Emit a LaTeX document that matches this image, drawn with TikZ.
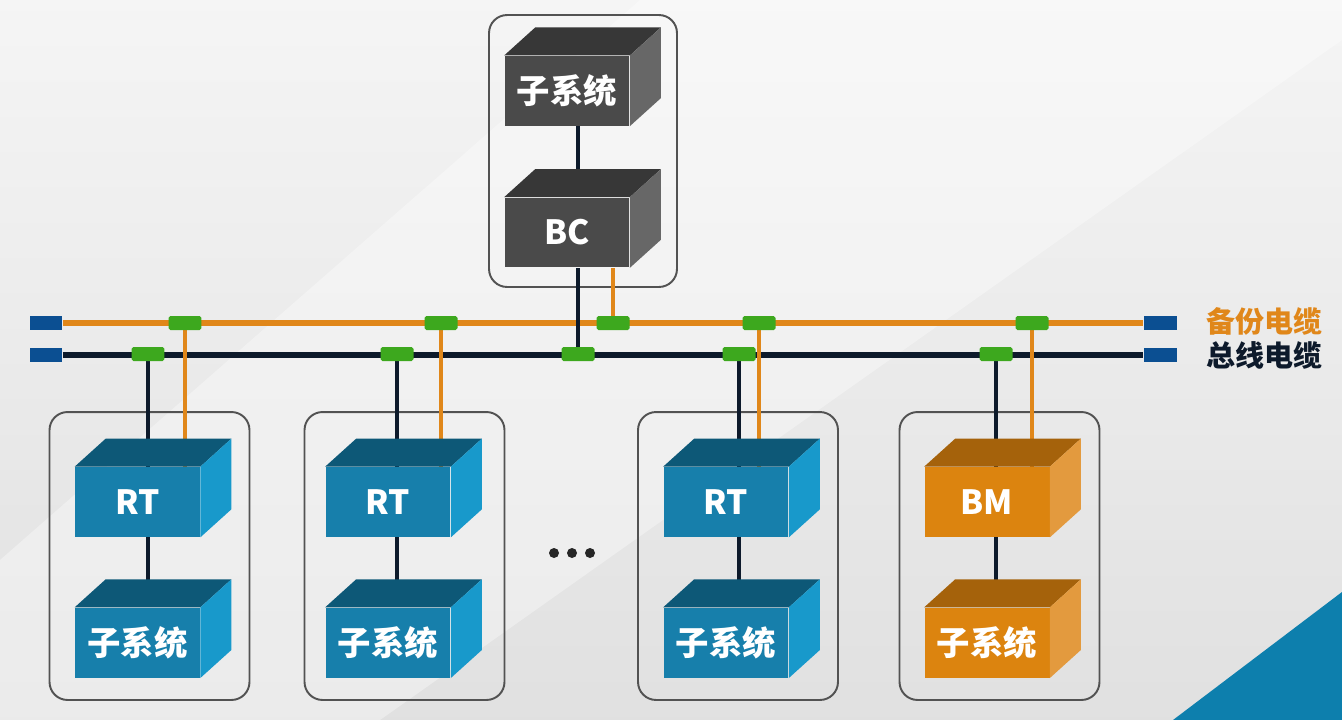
\documentclass[tikz,border=0pt]{standalone}
\usepackage{fontspec}
\newfontfamily\cjk{Noto Sans CJK SC}
\usetikzlibrary{positioning}

\definecolor{busnavy}{HTML}{0D1A2B}
\definecolor{busorange}{HTML}{E0871A}
\definecolor{tapgreen}{HTML}{3DA81E}
\definecolor{capblue}{HTML}{0B4F92}
\definecolor{rtfront}{HTML}{177FAB}
\definecolor{rttop}{HTML}{0D5877}
\definecolor{rtside}{HTML}{1899CB}
\definecolor{bmfront}{HTML}{DC840F}
\definecolor{bmtop}{HTML}{A5620B}
\definecolor{bmside}{HTML}{E39A3E}
\definecolor{bcfront}{HTML}{4A4A4A}
\definecolor{bctop}{HTML}{373737}
\definecolor{bcside}{HTML}{676767}
\definecolor{cornerblue}{HTML}{0D7FAD}

\pgfdeclarelayer{back}
\pgfdeclarelayer{wires}
\pgfsetlayers{back,wires,main}

% top and side faces of a block
\newcommand{\blockfaces}[3]{%
  \fill[#2] (#1.north west) -- ++(31,-28) -- ([shift={(31,-28)}]#1.north east) -- (#1.north east) -- cycle;
  \fill[#3] (#1.north east) -- ++(31,-28) -- ([shift={(31,-28)}]#1.south east) -- (#1.south east) -- cycle;
}

\begin{document}
\begin{tikzpicture}[x=0.02cm, y=-0.02cm, node distance=1.4cm,
  block/.style={rectangle, minimum width=2.5cm, minimum height=1.4cm, inner sep=0, text=white, font=\cjk\bfseries\fontsize{19}{22}\selectfont},
  frame/.style={draw=black!68, line width=1.1pt, rounded corners=0.36cm, minimum width=4cm, minimum height=5.76cm},
  tap/.style={fill=tapgreen, minimum width=0.66cm, minimum height=0.28cm, inner sep=0, rounded corners=1pt},
  endcap/.style={fill=capblue, minimum width=0.66cm, minimum height=0.28cm, inner sep=0},
  busline/.style={draw=busnavy, line width=2.6pt},
  spareline/.style={draw=busorange, line width=2.6pt},
  legend/.style={anchor=west, font=\cjk\bfseries\fontsize{16.5}{19}\selectfont}]

    \useasboundingbox (0,0) rectangle (1342,720);

    \begin{pgfonlayer}{back}
        \shade[top color=black!4, bottom color=black!12] (0,0) rectangle (1342,720);
        \fill[white, opacity=0.35] (640,0) -- (1342,0) -- (1342,40) -- (380,720) -- (0,720) -- (0,560) -- cycle;
        \fill[cornerblue] (1173,720) -- (1342,592) -- (1342,720) -- cycle;

        \node [frame] (f1) at (149.5,556) {};
        \node [frame] (f2) at (404.5,556) {};
        \node [frame] (f3) at (738,556) {};
        \node [frame] (f4) at (999.5,556) {};
        \node [frame, minimum width=3.76cm, minimum height=5.44cm] (fbc) at (583,151) {};
    \end{pgfonlayer}

    % bus ends and couplers
    \node [endcap] (capLo) at (46,323) {};
    \node [endcap] (capRo) at (1160,323) {};
    \node [endcap] (capLn) at (46,355) {};
    \node [endcap] (capRn) at (1160,355) {};

    \node [tap] (o1) at (185,323) {};
    \node [tap] (o2) at (441,323) {};
    \node [tap] (o3) at (613,323) {};
    \node [tap] (o4) at (759,323) {};
    \node [tap] (o5) at (1032,323) {};
    \node [tap] (n1) at (148,354) {};
    \node [tap] (n2) at (397,354) {};
    \node [tap] (n3) at (578,354) {};
    \node [tap] (n4) at (739,354) {};
    \node [tap] (n5) at (996,354) {};

    \node [legend, text=busorange] (sparelabel) at (1200,321) {备份电缆};
    \node [legend, text=busnavy] (buslabel) at (1200,355) {总线电缆};

    % terminals
    \node [block, fill=bcfront] (bc) at (567,232.5) {BC};
    \node [block, fill=bcfront] (subbc) [above=1.42cm of bc] {子系统};
    \node [block, fill=rtfront] (rt1) at (137.5,502) {RT};
    \node [block, fill=rtfront] (sub1) [below=1.4cm of rt1] {子系统};
    \node [block, fill=rtfront] (rt2) at (388,502) {RT};
    \node [block, fill=rtfront] (sub2) [below=1.4cm of rt2] {子系统};
    \node [block, fill=rtfront] (rt3) at (726,502) {RT};
    \node [block, fill=rtfront] (sub3) [below=1.4cm of rt3] {子系统};
    \node [block, fill=bmfront] (bm) at (987,502) {BM};
    \node [block, fill=bmfront] (sub4) [below=1.4cm of bm] {子系统};

    \blockfaces{bc}{bctop}{bcside}
    \blockfaces{subbc}{bctop}{bcside}
    \blockfaces{rt1}{rttop}{rtside}
    \blockfaces{sub1}{rttop}{rtside}
    \blockfaces{rt2}{rttop}{rtside}
    \blockfaces{sub2}{rttop}{rtside}
    \blockfaces{rt3}{rttop}{rtside}
    \blockfaces{sub3}{rttop}{rtside}
    \blockfaces{bm}{bmtop}{bmside}
    \blockfaces{sub4}{bmtop}{bmside}

    \foreach \x in {554,572,590}
        \fill[black!85] (\x,553) circle (0.1cm);

    \begin{pgfonlayer}{wires}
        \draw [spareline, line width=3.4pt] (capLo) -- (capRo);
        \draw [busline, line width=3.4pt] (capLn) -- (capRn);

        \draw [busline] (n3) -- (bc.south -| n3);
        \draw [spareline] (o3) -- (bc.south -| o3);
        \draw [busline] (subbc.south -| n3) -- (bc.north -| n3);

        \draw [busline] (n1) -- (rt1.north -| n1);
        \draw [spareline] (o1) -- (rt1.north -| o1);
        \draw [busline] (rt1.south -| n1) -- (sub1.north -| n1);
        \draw [busline] (n2) -- (rt2.north -| n2);
        \draw [spareline] (o2) -- (rt2.north -| o2);
        \draw [busline] (rt2.south -| n2) -- (sub2.north -| n2);
        \draw [busline] (n4) -- (rt3.north -| n4);
        \draw [spareline] (o4) -- (rt3.north -| o4);
        \draw [busline] (rt3.south -| n4) -- (sub3.north -| n4);
        \draw [busline] (n5) -- (bm.north -| n5);
        \draw [spareline] (o5) -- (bm.north -| o5);
        \draw [busline] (bm.south -| n5) -- (sub4.north -| n5);
    \end{pgfonlayer}

\end{tikzpicture}
\end{document}
